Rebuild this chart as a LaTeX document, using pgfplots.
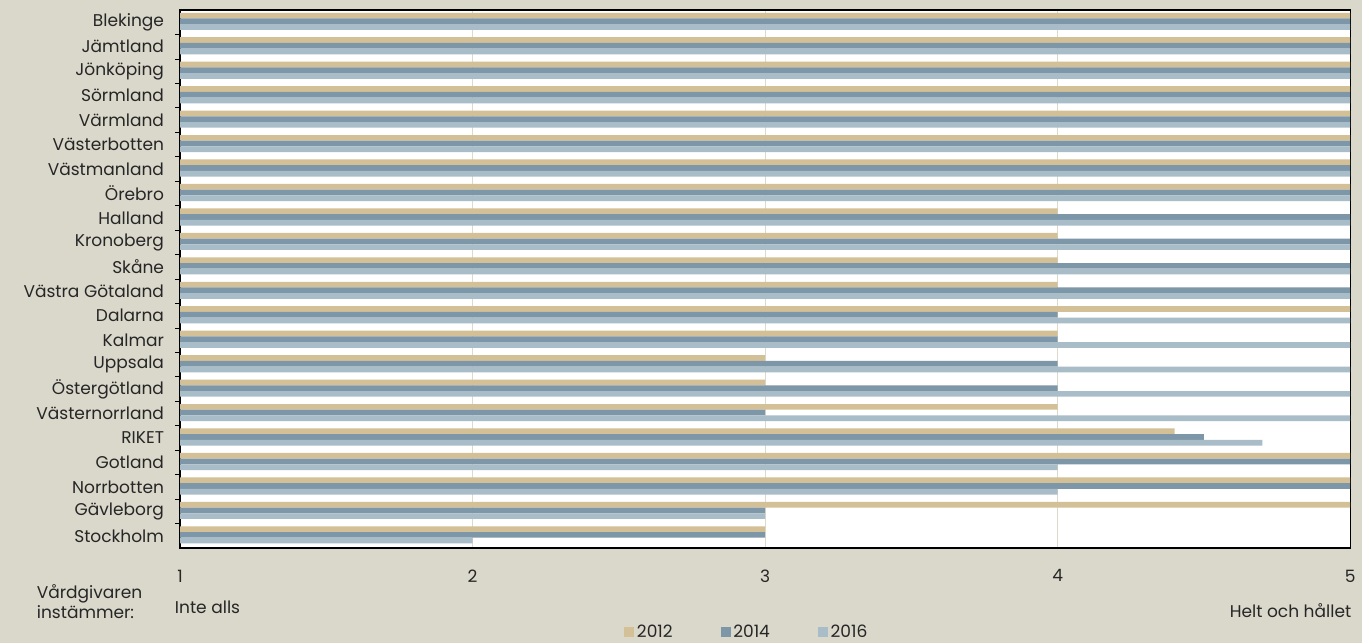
\documentclass[border=0pt]{standalone}
\usepackage{pgfplots}
\pgfplotsset{compat=1.18}
\usepackage{pgfplotstable}
\usepackage{fontspec}
\setmainfont{Poppins}

\definecolor{bg}{HTML}{DAD7CB}
\definecolor{c12}{HTML}{D4C096}
\definecolor{c14}{HTML}{7D97A8}
\definecolor{c16}{HTML}{A9BDC8}
\definecolor{txt}{HTML}{262626}
\definecolor{gridc}{HTML}{DDD9CC}

% idx: 0 = top row
\pgfplotstableread{
idx y12 y14 y16
0  5   5   5
1  5   5   5
2  5   5   5
3  5   5   5
4  5   5   5
5  5   5   5
6  5   5   5
7  5   5   5
8  4   5   5
9  4   5   5
10 4   5   5
11 4   5   5
12 5   4   5
13 4   4   5
14 3   4   5
15 3   4   5
16 4   3   5
17 4.4 4.5 4.7
18 5   5   4
19 5   5   4
20 5   3   3
21 3   3   2
}\data

\begin{document}
\begin{tikzpicture}[font=\fontsize{12.8}{15}\selectfont, text=txt]
\fill[bg] (0,0) rectangle (36cm,16.996cm);
\begin{axis}[
  at={(4.758cm,2.511cm)}, anchor=south west,
  width=30.93cm, height=14.22cm, scale only axis,
  axis background/.style={fill=white},
  axis line style={black, line width=0.9pt},
  xbar, bar width=4.3pt,
  y dir=reverse,
  xmin=1, xmax=5, ymin=-0.5, ymax=21.5,
  xtick={1,2,3,4,5},
  major tick length=0pt,
  xmajorgrids, grid style={gridc, line width=0.8pt},
  /pgf/number format/assume math mode=true,
  ticklabel style={font=\fontsize{12.8}{15}\selectfont, text=txt},
  xticklabel style={yshift=-0.45cm},
  ytick={0,...,21},
  yticklabels={Blekinge,Jämtland,Jönköping,Sörmland,Värmland,Västerbotten,Västmanland,Örebro,Halland,Kronoberg,Skåne,Västra Götaland,Dalarna,Kalmar,Uppsala,Östergötland,Västernorrland,RIKET,Gotland,Norrbotten,Gävleborg,Stockholm},
  yticklabel style={xshift=-0.3cm},
  minor ytick={0.5,1.5,...,20.5},
  minor tick length=0.13cm,
  minor tick style={black, line width=0.6pt},
  ytick pos=left,
  legend columns=3,
  legend style={draw=none, fill=none, at={(0.4846,-0.156)}, anchor=center,
    font=\fontsize{12.8}{15}\selectfont, text=txt,
    /tikz/every even column/.append style={column sep=34pt}},
  legend image code/.code={\fill[#1] (0pt,-3.8pt) rectangle (7.6pt,3.8pt);},
]
\addplot[fill=c12, draw=none, bar shift=5pt] table[x=y12, y=idx] {\data};
\addplot[fill=c14, draw=none, bar shift=0.7pt] table[x=y14, y=idx] {\data};
\addplot[fill=c16, draw=none, bar shift=-3.6pt] table[x=y16, y=idx] {\data};
\legend{2012,2014,2016}
\end{axis}
\node[anchor=west] at (4.50cm,0.952cm) {Inte alls};
\node[anchor=east] at (35.84cm,0.846cm) {Helt och hållet};
\node[anchor=west, align=left, font=\fontsize{12.8}{15}\selectfont] at (0.85cm,1.084cm) {Vårdgivaren\\instämmer:};
\pgfresetboundingbox
\useasboundingbox (0,0) rectangle (36cm,16.996cm);
\end{tikzpicture}
\end{document}
